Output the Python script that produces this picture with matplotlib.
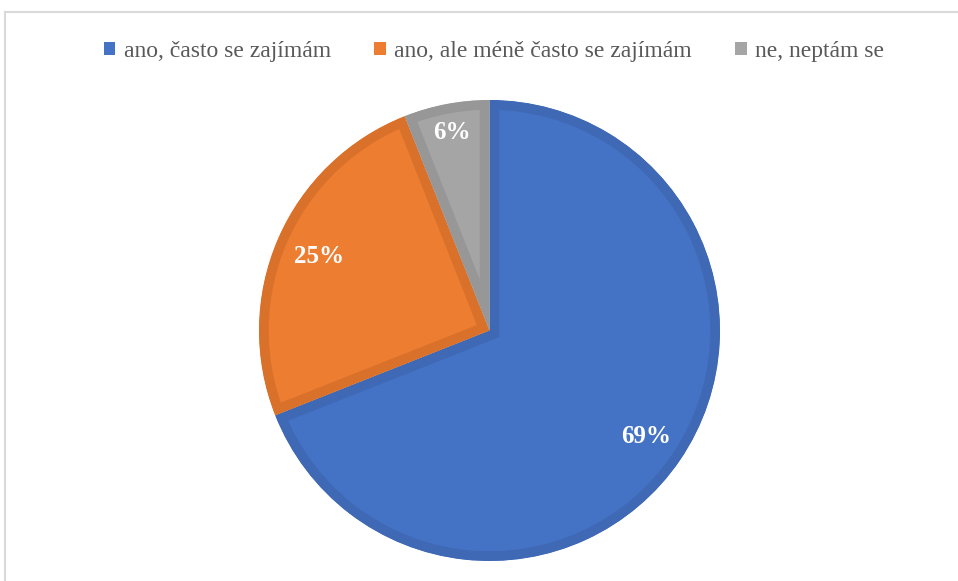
import matplotlib
matplotlib.use("Agg")
import matplotlib.pyplot as plt
import numpy as np
from matplotlib.patches import Patch
from matplotlib.lines import Line2D

categories = ["ano, často se zajímám", "ano, ale méně často se zajímám", "ne, neptám se"]
values = [69, 25, 6]
colors = ["#4472C4", "#ED7D31", "#A5A5A5"]
edge_colors = ["#3F68B5", "#D9712B", "#979797"]
label_dist = [0.82, 0.806, 0.874]

W, H, DPI = 958, 581, 100
fig = plt.figure(figsize=(W / DPI, H / DPI), dpi=DPI)
fig.patch.set_facecolor("white")

# frame lines (top and left)
fig.add_artist(Line2D([5 / W, 1], [1 - 12 / H, 1 - 12 / H], color="#D9D9D9", lw=1.5))
fig.add_artist(Line2D([5 / W, 5 / W], [0, 1 - 12 / H], color="#D9D9D9", lw=1.5))

cx, cy, r = 489.5, 330.5, 230.5
ax = fig.add_axes([(cx - r) / W, (H - cy - r) / H, 2 * r / W, 2 * r / H])

wedges, texts = ax.pie(values, colors=colors, startangle=90, counterclock=False,
                       radius=1, center=(0, 0),
                       wedgeprops=dict(linewidth=14))
ax.set_xlim(-1, 1)
ax.set_ylim(-1, 1)
ax.set_aspect("auto")
ax.axis("off")

total = sum(values)
start = 90.0
for w, ec, v, d in zip(wedges, edge_colors, values, label_dist):
    w.set_edgecolor(ec)
    w.set_clip_on(True)
    w.set_clip_path(w)
    ang = start - v / total * 360 / 2
    start -= v / total * 360
    x, y = d * np.cos(np.radians(ang)), d * np.sin(np.radians(ang))
    ax.text(x, y, f"{v}%", ha="center", va="center", color="white",
            fontsize=18, fontweight="bold", family="Liberation Serif")

handles = [Patch(facecolor=c, edgecolor="none") for c in colors]
fig.legend(handles, categories, loc="center", bbox_to_anchor=(494 / W, 1 - 51 / H),
           ncol=3, frameon=False, handlelength=0.48, handleheight=0.48,
           handletextpad=0.35, columnspacing=1.85,
           prop=dict(family="Liberation Serif", size=17), labelcolor="#595959")

fig.savefig("out.png", dpi=DPI, facecolor="white")
